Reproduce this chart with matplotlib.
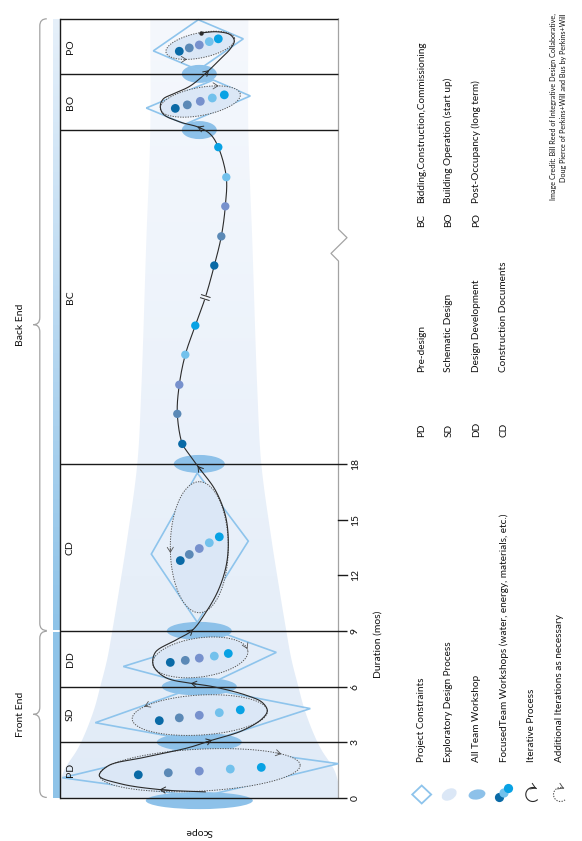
import numpy as np
import matplotlib
matplotlib.use("Agg")
import matplotlib.pyplot as plt
from matplotlib.patches import Polygon, Ellipse, PathPatch, Rectangle, Circle
from matplotlib.path import Path
from matplotlib.colors import LinearSegmentedColormap

plt.rcParams['font.family'] = ['Lato', 'DejaVu Sans']

# ---------------- data ----------------
phase_codes = ["PD", "SD", "DD", "CD", "BC", "BO", "PO"]
phase_bounds = [0, 3, 6, 9, 18, 36, 39, 42]          # timeline (months, BC drawn compressed)
duration_ticks = [0, 3, 6, 9, 12, 15, 18]
end_labels = ["Front End", "Back End"]
end_spans = [(0, 9), (9, 42)]

abbr_left = ["PD", "SD", "DD", "CD"]
name_left = ["Pre-design", "Schematic Design", "Design Development", "Construction Documents"]
abbr_right = ["BC", "BO", "PO"]
name_right = ["Bidding,Construction,Commissioning", "Building Operation (start up)",
              "Post-Occupancy (long term)"]
legend_labels = ["Project Constraints", "Exploratory Design Process", "All Team Workshop",
                 "FocusedTeam Workshops (water, energy, materials, etc.)", "Iterative Process",
                 "Additional Iterations as necessary"]
credit_lines = ["Image Credit: Bill Reed of Integrative Design Collaborative,",
                "Doug Pierce of Perkins+Will and Bus by Perkins+Will"]

# background funnel (half width in scope units by timeline position)
funnel_t = [0, 0.8, 1.5, 2.6, 3.5, 4.8, 6, 7.5, 9, 11.6, 14, 18, 22, 30, 36, 42]
funnel_half = [142, 139, 135, 122, 114, 105, 99, 92, 87, 79, 72, 62, 58, 53, 49, 49]

# all team workshops
workshop_t = [-0.15, 3, 6, 9, 18, 36, 39.03]
workshop_width = [107, 85, 75, 65, 51, 35, 35]
workshop_height = [0.92, 1.02, 0.97, 0.97, 0.97, 0.97, 0.97]

# exploratory design process ellipses (centre, semi-axes in scope units, tilt deg)
explore_scope = [0.5, 0.5, 1, 0, 1, 1]
explore_t = [1.49, 4.46, 7.57, 13.51, 37.54, 40.57]
explore_a = [100.5, 67.7, 48, 65.5, 40.7, 35]
explore_b = [21, 20, 19.5, 29, 14, 12.5]
explore_angle = [2.9, 3.4, 8, 90, 10.6, 11.5]
explore_arrow_phi = [35, 144, 5, 95, 59, 243]
explore_arrow_dir = [-1, 1, -1, 1, -1, 1]

# project constraints (left, top, right, bottom vertices)
constraint_scope = [[-137, 0, 139, 2], [-104, -2, 111, 6], [-76, 27, 77, 3],
                    [-48, -2, 49, -2], [-53, 14, 51, -14], [-46, -1, 44, -1]]
constraint_t = [[1.08, 2.86, 1.84, 0.05], [4.05, 6.0, 4.81, 2.97], [7.08, 8.81, 7.84, 5.95],
                [13.14, 17.51, 13.84, 9.46], [37.19, 38.7, 37.84, 36.32], [40.27, 41.95, 40.92, 39.24]]

# focused team workshops
focus_colors = ["#0a6aa6", "#5b89b6", "#7791cd", "#72c1ec", "#08a2e4"]
pd_dot_scope = [-61, -31, 0, 31, 62]
pd_dot_t = [1.24, 1.35, 1.44, 1.55, 1.64]
sd_dot_scope = [-40, -20, 0, 20, 41]
sd_dot_t = [4.16, 4.31, 4.45, 4.59, 4.74]
dd_dot_scope = [-29, -14, 0, 15, 29]
dd_dot_t = [7.30, 7.41, 7.53, 7.64, 7.78]
cd_dot_scope = [-19, -10, 0, 10, 20]
cd_dot_t = [12.79, 13.12, 13.44, 13.75, 14.07]
bo_dot_scope = [-24, -12, 1, 13, 25]
bo_dot_t = [37.17, 37.36, 37.55, 37.73, 37.90]
po_dot_scope = [-20, -10, 0, 10, 19]
po_dot_t = [40.25, 40.43, 40.59, 40.77, 40.92]
bc_dot_scope = [-17, -22, -20, -14, -4, 15, 22, 26, 27, 19]
bc_dot_t = [19.08, 20.70, 22.27, 23.89, 25.46, 28.70, 30.27, 31.89, 33.46, 35.08]

# iterative process path
path_scope = [6, -37, -79, -100, -91, -57, -11, 11, 43, 63,
              68, 63, 48, 13, -7, -34, -46, -44, -24, -7,
              6, 19, 27, 29, 26, 16, -1, -12, -17, -22,
              -20, -14, -4, 6, 15, 22, 26, 27, 19, 11,
              -1, -19, -36, -39, -36, -26, -9, 9, 19, 31,
              35, 31, 18, 2]
path_t = [0.32, 0.43, 0.76, 1.19, 1.73, 2.16, 2.70, 3.08, 3.62, 4.27,
          4.70, 5.14, 5.51, 6.00, 6.16, 6.49, 7.14, 7.84, 8.49, 9.03,
          9.95, 11.19, 12.54, 13.89, 15.24, 16.59, 17.84, 18.65, 19.08, 20.70,
          22.27, 23.89, 25.46, 26.97, 28.70, 30.27, 31.89, 33.46, 35.08, 35.78,
          36.16, 36.43, 36.86, 37.30, 37.68, 37.95, 38.38, 39.19, 39.73, 40.38,
          40.81, 41.14, 41.30, 41.24]
path_arrow_idx = [1, 7, 14, 19, 26, 40, 47]
path_break_idx = 33

# ---------------- styles ----------------
C_FUNNEL = ['#E1EBF7', '#EAF1FA', '#F5F8FD']
C_EXPLORE = '#DBE7F6'
C_WORKSHOP = '#8DC1E9'
C_CONSTRAINT = '#8EC4EC'
C_PATH = '#2b2b2b'
C_DOT = '#555555'
C_GRAY = '#a3a3a3'

W, H = 582, 841
fig = plt.figure(figsize=(W / 100, H / 100), dpi=100)
fig.patch.set_facecolor('white')
AX_L, AX_R, AX_T, AX_B = 60.3, 338.3, 18.8, 797.8
ax = fig.add_axes([AX_L / W, 1 - AX_B / H, (AX_R - AX_L) / W, (AX_B - AX_T) / H])
ax.axis('off')
XLIM = (-139, 139)
YLIM = (0, 42)
PPS = (AX_R - AX_L) / (XLIM[1] - XLIM[0])
PPM = (AX_B - AX_T) / (YLIM[1] - YLIM[0])
RATIO = PPM / PPS


def catmull_rom(P, n=16, alpha=0.5):
    P = np.asarray(P, float)
    P = np.vstack([2 * P[0] - P[1], P, 2 * P[-1] - P[-2]])
    out = []
    for i in range(1, len(P) - 2):
        p0, p1, p2, p3 = P[i - 1], P[i], P[i + 1], P[i + 2]
        t0 = 0.0
        t1 = t0 + max(np.linalg.norm(p1 - p0), 1e-6) ** alpha
        t2 = t1 + max(np.linalg.norm(p2 - p1), 1e-6) ** alpha
        t3 = t2 + max(np.linalg.norm(p3 - p2), 1e-6) ** alpha
        ts = np.linspace(t1, t2, n, endpoint=False)[:, None]
        A1 = (t1 - ts) / (t1 - t0) * p0 + (ts - t0) / (t1 - t0) * p1
        A2 = (t2 - ts) / (t2 - t1) * p1 + (ts - t1) / (t2 - t1) * p2
        A3 = (t3 - ts) / (t3 - t2) * p2 + (ts - t2) / (t3 - t2) * p3
        B1 = (t2 - ts) / (t2 - t0) * A1 + (ts - t0) / (t2 - t0) * A2
        B2 = (t3 - ts) / (t3 - t1) * A2 + (ts - t1) / (t3 - t1) * A3
        out.append((t2 - ts) / (t2 - t1) * B1 + (ts - t1) / (t2 - t1) * B2)
    out.append(P[-2][None, :])
    return np.vstack(out)


def smooth(xs, ts, n=16):
    pts = catmull_rom(np.column_stack([np.asarray(xs, float), np.asarray(ts, float) * RATIO]), n)
    return pts[:, 0], pts[:, 1] / RATIO


def ellipse_pts(cx, ct, a, b, ang, phi):
    r = np.radians(ang)
    u, v = a * np.cos(phi), b * np.sin(phi)
    return cx + u * np.cos(r) - v * np.sin(r), ct + (u * np.sin(r) + v * np.cos(r)) / RATIO


def arrowhead(axis, x0, y0, x1, y1, color, lw=0.6, z=8, ls='-'):
    axis.annotate('', xy=(x1, y1), xytext=(x0, y0),
                  arrowprops=dict(arrowstyle='->,head_length=0.35,head_width=0.22', color=color,
                                  lw=lw, shrinkA=0, shrinkB=0, linestyle=ls),
                  zorder=z, annotation_clip=False)


# ---- funnel background ----
fl_x, fl_t = smooth([-h for h in funnel_half], funnel_t, 8)
fr_x, fr_t = smooth(funnel_half, funnel_t, 8)
funnel_poly = Polygon(np.column_stack([np.r_[fl_x, fr_x[::-1]], np.r_[fl_t, fr_t[::-1]]]),
                      closed=True, fc='none', ec='none', transform=ax.transData)
ax.add_patch(funnel_poly)
fcmap = LinearSegmentedColormap.from_list('funnel', [(0, C_FUNNEL[0]), (18 / 42, C_FUNNEL[1]), (1, C_FUNNEL[2])])
im = ax.imshow(np.linspace(0, 1, 256)[:, None], extent=(XLIM[0], XLIM[1], 0, 42), origin='lower',
               aspect='auto', cmap=fcmap, zorder=1)
im.set_clip_path(funnel_poly)

# ---- left phase bar ----
ax.add_patch(Rectangle((-146.5, end_spans[0][0]), 7.5, end_spans[0][1] - 0.07, fc='#8EC3E8', ec='none',
                       clip_on=False, zorder=2))
bcmap = LinearSegmentedColormap.from_list('bar', ['#8EC3E8', '#B8D8F1', '#E6F0FA'])
imb = ax.imshow(np.linspace(0, 1, 256)[:, None], extent=(-146.5, -139, end_spans[1][0] + 0.07, 42),
                origin='lower', aspect='auto', cmap=bcmap, zorder=2)
imb.set_clip_on(False)

# ---- all team workshops ----
for t, w, h in zip(workshop_t, workshop_width, workshop_height):
    ax.add_patch(Ellipse((0, t), w, h, fc=C_WORKSHOP, ec='none', zorder=2, clip_on=False))

# ---- frame lines ----
for t in phase_bounds:
    right = 147.5 if t <= 18 else 139
    ax.plot([XLIM[0], right], [t, t], color='#1a1a1a', lw=1.0, zorder=3.5, clip_on=False,
            solid_capstyle='butt')
ax.plot([XLIM[0], XLIM[0]], [0, 42], color='#1a1a1a', lw=1.0, zorder=3.5, clip_on=False)
for t in duration_ticks:
    if t not in phase_bounds:
        ax.plot([139, 147.5], [t, t], color='#1a1a1a', lw=1.0, zorder=3.5, clip_on=False)
# right gray line with break
zig_x = [139.2, 139.2, 147.7, 131.7, 139.2, 139.2]
zig_t = [42, 30.65, 30.2, 29.35, 28.94, 0]
ax.plot(zig_x, zig_t, color=C_GRAY, lw=0.9, zorder=3, clip_on=False)

# ---- project constraints ----
for xs, ts in zip(constraint_scope, constraint_t):
    ax.add_patch(Polygon(np.column_stack([xs, ts]), closed=True, fc='none', ec=C_CONSTRAINT,
                         lw=1.2, zorder=3, clip_on=False, joinstyle='miter'))

# ---- exploratory ellipses ----
phi = np.linspace(0, 2 * np.pi, 240)
for cx, ct, a, b, ang, ap, ad in zip(explore_scope, explore_t, explore_a, explore_b, explore_angle,
                                     explore_arrow_phi, explore_arrow_dir):
    ex, et = ellipse_pts(cx, ct, a, b, ang, phi)
    ax.fill(ex, et, color=C_EXPLORE, zorder=4, clip_on=False, lw=0)
    ax.plot(ex, et, color=C_DOT, lw=0.7, ls=(0, (1.3, 1.3)), zorder=5, clip_on=False)
    p0 = ellipse_pts(cx, ct, a, b, ang, np.radians(ap - ad * 4))
    p1 = ellipse_pts(cx, ct, a, b, ang, np.radians(ap))
    arrowhead(ax, p0[0], p0[1], p1[0], p1[1], C_DOT, lw=0.6, z=6)

# ---- iterative path ----
N = 16
px, pt = smooth(path_scope, path_t, N)
ax.plot(px, pt, color=C_PATH, lw=0.8, zorder=6, clip_on=False)
for k in path_arrow_idx:
    j = k * N
    arrowhead(ax, px[j - 3], pt[j - 3], px[j + 1], pt[j + 1], C_PATH, lw=0.7, z=7)
ax.plot(px[-1], pt[-1], 'o', color=C_PATH, ms=2.2, zorder=7, clip_on=False)
# break marks
jb = path_break_idx * N
dxp = (px[jb + 1] - px[jb - 1]) * PPS
dyp = (pt[jb + 1] - pt[jb - 1]) * PPM
L = np.hypot(dxp, dyp)
tx, ty = dxp / L, dyp / L
nx, ny = -ty, tx
for off in (-1.6, 1.6):
    cxp, cyp = px[jb] + tx * off / PPS, pt[jb] + ty * off / PPM
    ax.plot([cxp - nx * 4.5 / PPS, cxp + nx * 4.5 / PPS], [cyp - ny * 4.5 / PPM, cyp + ny * 4.5 / PPM],
            color=C_PATH, lw=0.7, zorder=6.5)
ax.plot([px[jb] - tx * 1.0 / PPS, px[jb] + tx * 1.0 / PPS], [pt[jb] - ty * 1.0 / PPM, pt[jb] + ty * 1.0 / PPM],
        color='white', lw=1.6, zorder=6.4)

# ---- focused team dots ----
for xs, ts in [(pd_dot_scope, pd_dot_t), (sd_dot_scope, sd_dot_t), (dd_dot_scope, dd_dot_t),
               (cd_dot_scope, cd_dot_t), (bo_dot_scope, bo_dot_t), (po_dot_scope, po_dot_t)]:
    ax.scatter(xs, ts, s=40, c=focus_colors, edgecolors='none', zorder=8, clip_on=False)
ax.scatter(bc_dot_scope, bc_dot_t, s=36, c=focus_colors * 2, edgecolors='none', zorder=8, clip_on=False)

# ---- phase labels, ticks ----
for code, lo, hi in zip(phase_codes, phase_bounds[:-1], phase_bounds[1:]):
    ax.text(-129, (lo + hi) / 2, code, rotation=90, ha='center', va='center', fontsize=7.5,
            color='#111111', zorder=9)
for t in duration_ticks:
    ax.text(156, t, str(t), rotation=90, ha='center', va='center', fontsize=7.5, color='#111111',
            clip_on=False)
ax.text(178.5, 8.3, "Duration (mos)", rotation=90, ha='center', va='center', fontsize=7.5,
        color='#111111')
ax.text(0, -1.8, "Scope", rotation=180, ha='center', va='center', fontsize=7.5, color='#111111')

# ---- braces ----
def brace(lo, hi, x_line=-159.5, x_end=-152.5, x_tip=-166, r=0.38):
    m = (lo + hi) / 2
    verts = [(x_end, lo), (x_line, lo), (x_line, lo + r), (x_line, m - r), (x_line, m), (x_tip, m),
             (x_line, m), (x_line, m + r), (x_line, hi - r), (x_line, hi), (x_end, hi)]
    codes = [Path.MOVETO, Path.CURVE3, Path.CURVE3, Path.LINETO, Path.CURVE3, Path.CURVE3,
             Path.CURVE3, Path.CURVE3, Path.LINETO, Path.CURVE3, Path.CURVE3]
    ax.add_patch(PathPatch(Path(verts, codes), fc='none', ec=C_GRAY, lw=0.9, clip_on=False))
    return m

for lab, (lo, hi) in zip(end_labels, end_spans):
    m = brace(lo + 0.02, hi - 0.02 if hi < 42 else hi)
    ax.text(-178.5, m, lab, rotation=90, ha='center', va='center', fontsize=7.5, color='#111111')

ax.set_xlim(*XLIM)
ax.set_ylim(*YLIM)

# ---------------- right-side key (page layout in pixels) ----------------
ov = fig.add_axes([0, 0, 1, 1])
ov.set_xlim(0, W)
ov.set_ylim(H, 0)
ov.axis('off')
ov.patch.set_alpha(0)

col_x = [421.7, 448.7, 476.5, 504.0, 531.8, 559.5]
for x, code, name in zip(col_x, abbr_left, name_left):
    ov.text(x, 437, code, rotation=90, rotation_mode='anchor', ha='left', va='center', fontsize=7.2,
            color='#111111')
    ov.text(x, 372, name, rotation=90, rotation_mode='anchor', ha='left', va='center', fontsize=7.2,
            color='#111111')
for x, code, name in zip(col_x, abbr_right, name_right):
    ov.text(x, 227, code, rotation=90, rotation_mode='anchor', ha='left', va='center', fontsize=7.2,
            color='#111111')
    ov.text(x, 203, name, rotation=90, rotation_mode='anchor', ha='left', va='center', fontsize=7.2,
            color='#111111')
for x, lab in zip(col_x, legend_labels):
    ov.text(x, 762, lab, rotation=90, rotation_mode='anchor', ha='left', va='center', fontsize=7.2,
            color='#111111')
for x, line in zip([553.3, 563.3], credit_lines):
    ov.text(x, 13, line, rotation=90, rotation_mode='anchor', ha='right', va='center', fontsize=5.2,
            color='#111111')

# key symbols
sy = 794.5
ov.add_patch(Polygon([[col_x[0] - 9.5, sy], [col_x[0], sy - 9], [col_x[0] + 9.5, sy], [col_x[0], sy + 9]],
                     closed=True, fc='none', ec=C_CONSTRAINT, lw=1.3))
ov.add_patch(Ellipse((col_x[1] + 0.5, sy), 16, 11, angle=-30, fc=C_EXPLORE, ec='none'))
ov.add_patch(Ellipse((col_x[2] + 0.5, sy), 17, 10, angle=-10, fc=C_WORKSHOP, ec='none'))
for (dx, dy), c in zip([(-4.5, 3), (0, -1.5), (4.5, -6)], [focus_colors[0], focus_colors[3], focus_colors[4]]):
    ov.add_patch(Circle((col_x[3] + dx, sy + dy), 4.6, fc=c, ec='none'))
th = np.radians(np.linspace(60, 310, 60))
for x, ls in [(col_x[4] + 1, '-'), (col_x[5] + 1, (0, (1.2, 1.2)))]:
    ax_x = x + 7 * np.cos(th)
    ax_y = sy - 7 * np.sin(th)
    ov.plot(ax_x, ax_y, color=C_PATH if ls == '-' else C_DOT, lw=0.8, ls=ls)
    arrowhead(ov, ax_x[3], ax_y[3], ax_x[0], ax_y[0], C_PATH if ls == '-' else C_DOT, lw=0.7)

fig.savefig("out.png", dpi=100, facecolor='white')
